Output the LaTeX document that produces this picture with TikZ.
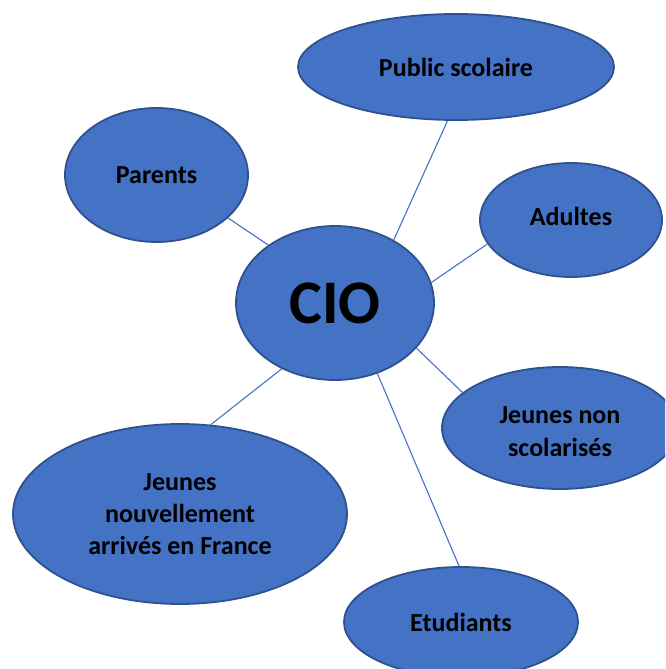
\documentclass[tikz,border=0pt]{standalone}
\usepackage{fontspec}
\setmainfont{Carlito}
\usetikzlibrary{shapes.geometric}
\definecolor{ofill}{HTML}{4472C4}
\definecolor{oborder}{HTML}{2F528F}
\definecolor{oline}{HTML}{4472C4}
\tikzset{
  bubble/.style={ellipse, draw=oborder, fill=ofill, line width=1.8pt, inner sep=0pt,
    align=center, font=\bfseries\fontsize{26}{32}\selectfont, text=black},
  link/.style={draw=oline, line width=1.1pt}
}
\begin{document}
\begin{tikzpicture}[x=1pt,y=-1pt]
\useasboundingbox (0,0) rectangle (665,669);
\clip (0,0) rectangle (665,669);
\node[bubble, minimum width=198pt, minimum height=154pt, font=\bfseries\fontsize{62}{70}\selectfont] (cio) at (335,303) {CIO};
\node[bubble, minimum width=316pt, minimum height=106pt] (pub) at (456,67) {Public scolaire};
\node[bubble, minimum width=183pt, minimum height=134pt] (par) at (156.5,175) {Parents};
\node[bubble, minimum width=182pt, minimum height=114pt] (adu) at (571,220) {\raisebox{4pt}[\height][\depth]{Adultes}};
\node[bubble, minimum width=236pt, minimum height=122pt] (jns) at (560,428) {\raisebox{-6pt}[\height][\depth]{\begin{tabular}{@{}c@{}}Jeunes non\\[1pt]scolarisés\end{tabular}}};
\node[bubble, minimum width=334pt, minimum height=180pt] (jna) at (180,514) {Jeunes\\nouvellement\\arrivés en France};
\node[bubble, minimum width=234pt, minimum height=110pt] (etu) at (461,622) {Etudiants};
\draw[link] (cio.47.4) -- (pub.261.7);
\draw[link] (cio.139.6) -- (par.-31.4);
\draw[link] (cio.12.5) -- (adu.196.8);
\draw[link] (cio.-29) -- (jns.160.7);
\draw[link] (cio.231.5) -- (jna.71.4);
\draw[link] (cio.-59.7) -- (etu.92);
\end{tikzpicture}
\end{document}
